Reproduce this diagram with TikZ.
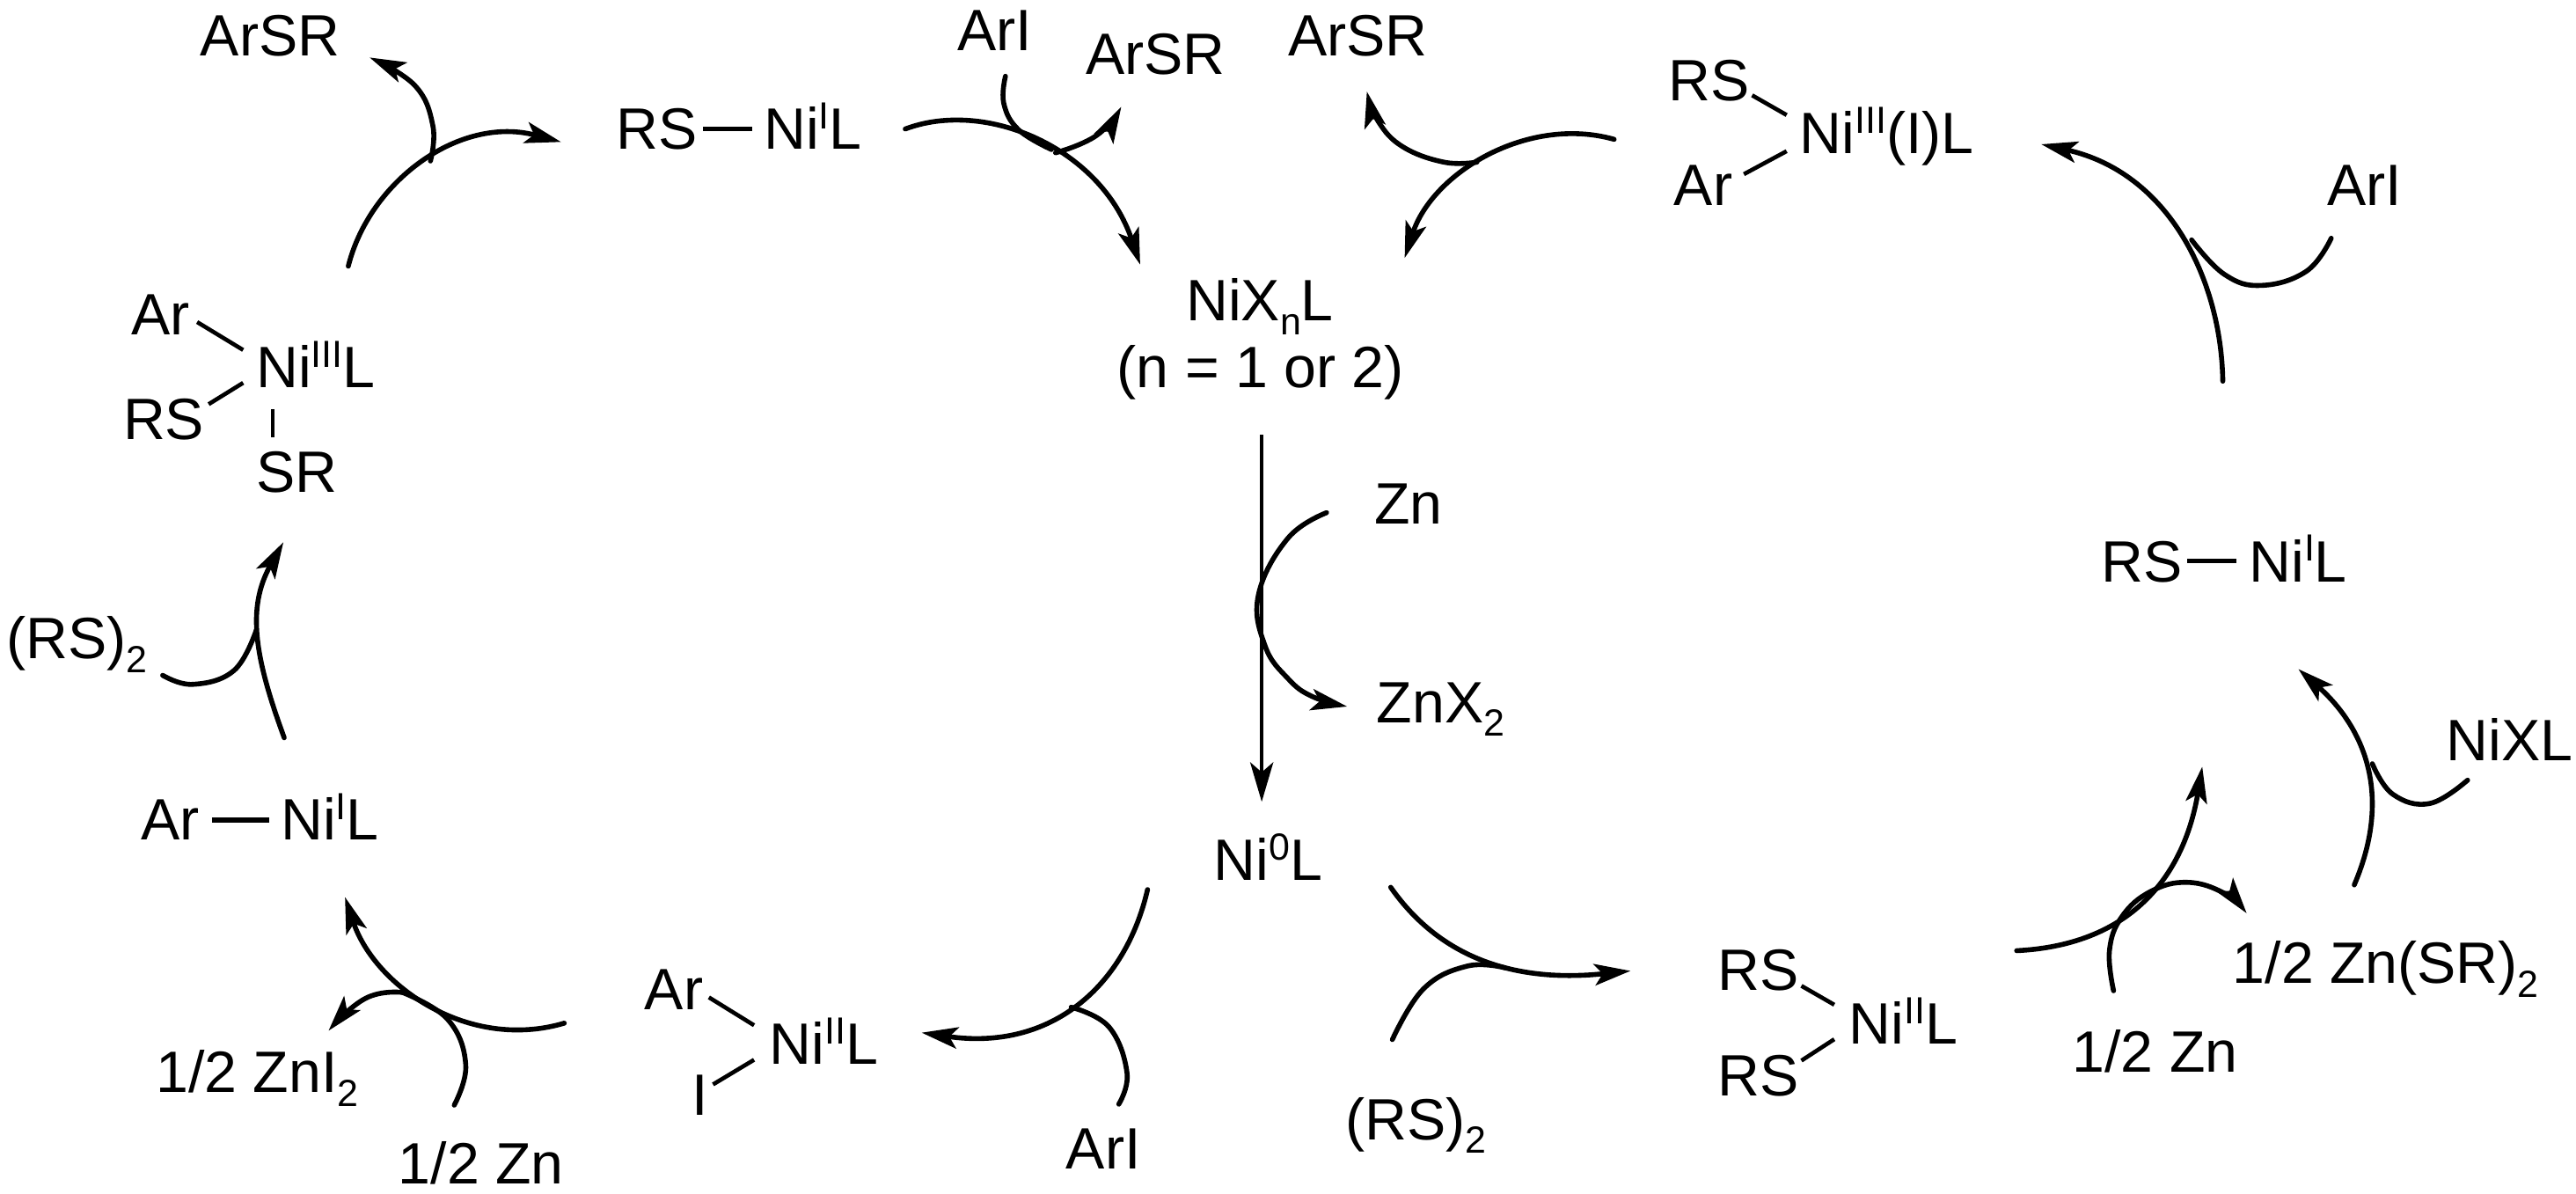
\documentclass[tikz,border=0pt]{standalone}
\usepackage{fontspec}
\setmainfont{Liberation Sans}
\usetikzlibrary{arrows.meta}
\newcommand{\spx}[1]{\raisebox{12.4pt}{\fontsize{23}{23}\selectfont #1}}
\newcommand{\sbx}[1]{\raisebox{-8.5pt}{\fontsize{23}{23}\selectfont #1}}
\tikzset{
  lab/.style={anchor=base west,inner sep=0pt,outer sep=0pt,font=\fontsize{35.5}{35.5}\selectfont},
  bondline/.style={line width=3pt,black},
  thinbond/.style={line width=2.5pt,black},
  curve/.style={line width=3pt,black,line cap=round,line join=round},
  arr/.style={curve,-{Stealth[length=22pt,width=13pt,inset=5pt]}},
  centerarr/.style={line width=2.4pt,black,-{Stealth[length=24pt,width=14pt,inset=6pt]}}
}
\newcommand{\crv}[3]{\draw[#1] plot[smooth,tension=#2] coordinates {#3};}
\begin{document}
\begin{tikzpicture}[x=1pt,y=-1pt]
\useasboundingbox (0,0) rectangle (1568,726.66);
% labels
\node[lab] (arsrA) at (122,34) {ArSR};
\node[lab] (ariA) at (583,31) {ArI};
\node[lab] (arsrB) at (661,45) {ArSR};
\node[lab] (arsrC) at (784,34) {ArSR};
\node[lab] (rsT) at (375,91) {RS};
\node[lab] (niT) at (465,91) {Ni\spx{I}L};
\node[lab] (nix) at (722,195) {NiX\sbx{n}L};
\node[lab] (nnote) at (680,236) {(n = 1 or 2)};
\node[lab] (arL) at (80,204) {Ar};
\node[lab] (niL) at (156,236) {Ni\spx{III}L};
\node[lab] (rsL) at (75,267.5) {RS};
\node[lab] (srL) at (156,299.6) {SR};
\node[lab] (rsR) at (1015.5,61.5) {RS};
\node[lab] (niR) at (1095.5,93.6) {Ni\spx{III}(I)L};
\node[lab] (arR) at (1019,125) {Ar};
\node[lab] (ariR) at (1416.5,125) {ArI};
\node[lab] (rsM) at (1279,354) {RS};
\node[lab] (niM) at (1369,354) {Ni\spx{I}L};
\node[lab] (zn) at (836.5,319) {Zn};
\node[lab] (znx) at (838,439.7) {ZnX\sbx{2}};
\node[lab] (rs2L) at (4,401) {(RS)\sbx{2}};
\node[lab] (arN) at (86,511) {Ar};
\node[lab] (niN) at (171,511) {Ni\spx{I}L};
\node[lab] (ni0) at (739,535.6) {Ni\spx{0}L};
\node[lab] (zni) at (95,665) {1/2 ZnI\sbx{2}};
\node[lab] (znA) at (242.5,720.7) {1/2 Zn};
\node[lab] (arB) at (392.5,614.6) {Ar};
\node[lab] (niB) at (468.5,647.6) {Ni\spx{II}L};
\node[lab] (iB) at (421,679) {I};
\node[lab] (ariB) at (649,711.6) {ArI};
\node[lab] (rs2B) at (819,693.5) {(RS)\sbx{2}};
\node[lab] (rsBa) at (1045.5,602.5) {RS};
\node[lab] (niC) at (1125.5,635.5) {Ni\spx{II}L};
\node[lab] (rsBb) at (1045.5,667) {RS};
\node[lab] (znB) at (1261.5,652.4) {1/2 Zn};
\node[lab] (znsr) at (1359,598.3) {1/2 Zn(SR)\sbx{2}};
\node[lab] (nixl) at (1489,463) {NiXL};
% bond ends
\coordinate (b1a) at (428,78.5); \coordinate (b1b) at (458,78.5);
\coordinate (b2a) at (120,196); \coordinate (b2b) at (148,213);
\coordinate (b3a) at (148,233); \coordinate (b3b) at (127,246);
\coordinate (b4a) at (166,249); \coordinate (b4b) at (166,266);
\coordinate (b5a) at (1066.5,58); \coordinate (b5b) at (1087.5,70);
\coordinate (b6a) at (1087.5,92); \coordinate (b6b) at (1061.5,106);
\coordinate (b7a) at (1331.5,341.4); \coordinate (b7b) at (1361.5,341.4);
\coordinate (b8a) at (129,499); \coordinate (b8b) at (164,499);
\coordinate (b9a) at (431.5,607); \coordinate (b9b) at (459,624);
\coordinate (b10a) at (459,645); \coordinate (b10b) at (434,660);
\coordinate (b11a) at (1096.5,600); \coordinate (b11b) at (1116.5,611.5);
\coordinate (b12a) at (1116.5,632.5); \coordinate (b12b) at (1096.5,645.5);
\draw[bondline] (b1a) -- (b1b);
\draw[bondline] (b7a) -- (b7b);
\draw[bondline] (b8a) -- (b8b);
\draw[thinbond] (b2a) -- (b2b);
\draw[thinbond] (b3a) -- (b3b);
\draw[thinbond] (b4a) -- (b4b);
\draw[thinbond] (b5a) -- (b5b);
\draw[thinbond] (b6a) -- (b6b);
\draw[thinbond] (b9a) -- (b9b);
\draw[thinbond] (b10a) -- (b10b);
\draw[thinbond] (b11a) -- (b11b);
\draw[thinbond] (b12a) -- (b12b);
% curved arrows: ends as named coordinates
\coordinate (a1) at (212,162); \coordinate (a2) at (341.5,86.4);
\draw[arr] (a1) .. controls (225,110) and (280,70) .. (a2);
\crv{arr}{.7}{(262,98) (263.5,76.6) (252.5,52) (225,35)}
\coordinate (b1) at (551,78.5); \coordinate (b2) at (694,161);
\draw[arr] (b1) .. controls (600,60) and (670,90) .. (b2);
\crv{curve}{.7}{(612,46.4) (611,63) (620,79) (640,91)}
\crv{arr}{.8}{(642.5,93) (667.5,82.4) (682.5,65)}
\coordinate (c1) at (982.5,84.8); \coordinate (c2) at (855,157);
\draw[arr] (c1) .. controls (930,70) and (872,105) .. (c2);
\crv{arr}{.7}{(899,98.7) (879,98.7) (854,89.4) (839,74) (832,55.7)}
\coordinate (d1) at (1353,232); \coordinate (d2) at (1242.5,87.8);
\draw[arr] (d1) .. controls (1352,170) and (1320,105) .. (d2);
\crv{curve}{.7}{(1419,145) (1404,165) (1376.5,173.7) (1354,167) (1334,146)}
\coordinate (cA) at (768,264.7); \coordinate (cB) at (768,488);
\draw[centerarr] (cA) -- (cB);
\crv{arr}{.7}{(807.5,312) (784,327.5) (766,362) (770,393) (784,413) (799,424) (820,430)}
\coordinate (f1) at (173,449); \coordinate (f2) at (172.5,330);
\draw[arr] (f1) .. controls (155,400) and (150,370) .. (f2);
\crv{curve}{.7}{(99,411) (117.5,416.5) (142.5,408) (156,383.5)}
\coordinate (g1) at (343.5,622.7); \coordinate (g2) at (210,546);
\draw[arr] (g1) .. controls (285,640) and (228,600) .. (g2);
\crv{curve}{.7}{(276.5,672.6) (283.5,648) (272.5,620.4) (245,604)}
\crv{arr}{.8}{(245,604) (222.5,607.6) (200,627.3)}
\coordinate (h1) at (698.5,541.4); \coordinate (h2) at (561,628.5);
\draw[arr] (h1) .. controls (685,600) and (640,640) .. (h2);
\crv{curve}{.7}{(681,672) (686,653) (675,625) (652,613)}
\coordinate (i1) at (846.5,540); \coordinate (i2) at (992.5,590.9);
\draw[arr] (i1) .. controls (878,585) and (925,598) .. (i2);
\crv{curve}{.7}{(847.5,632.7) (866.5,601.8) (893,588) (916,589)}
\coordinate (j1) at (1227.5,578.6); \coordinate (j2) at (1340.5,466.6);
\draw[arr] (j1) .. controls (1300,575) and (1330,530) .. (j2);
\crv{arr}{.7}{(1286.5,603) (1284,578.6) (1291.5,558) (1309,542.6) (1331.5,537) (1354,543.7) (1367.5,555.8)}
\coordinate (k1) at (1433,538.6); \coordinate (k2) at (1399,407.2);
\draw[arr] (k1) .. controls (1458,480) and (1436,440) .. (k2);
\crv{curve}{.7}{(1502,474.8) (1479,489) (1456.5,483.4) (1444,464.8)}
\end{tikzpicture}
\end{document}
